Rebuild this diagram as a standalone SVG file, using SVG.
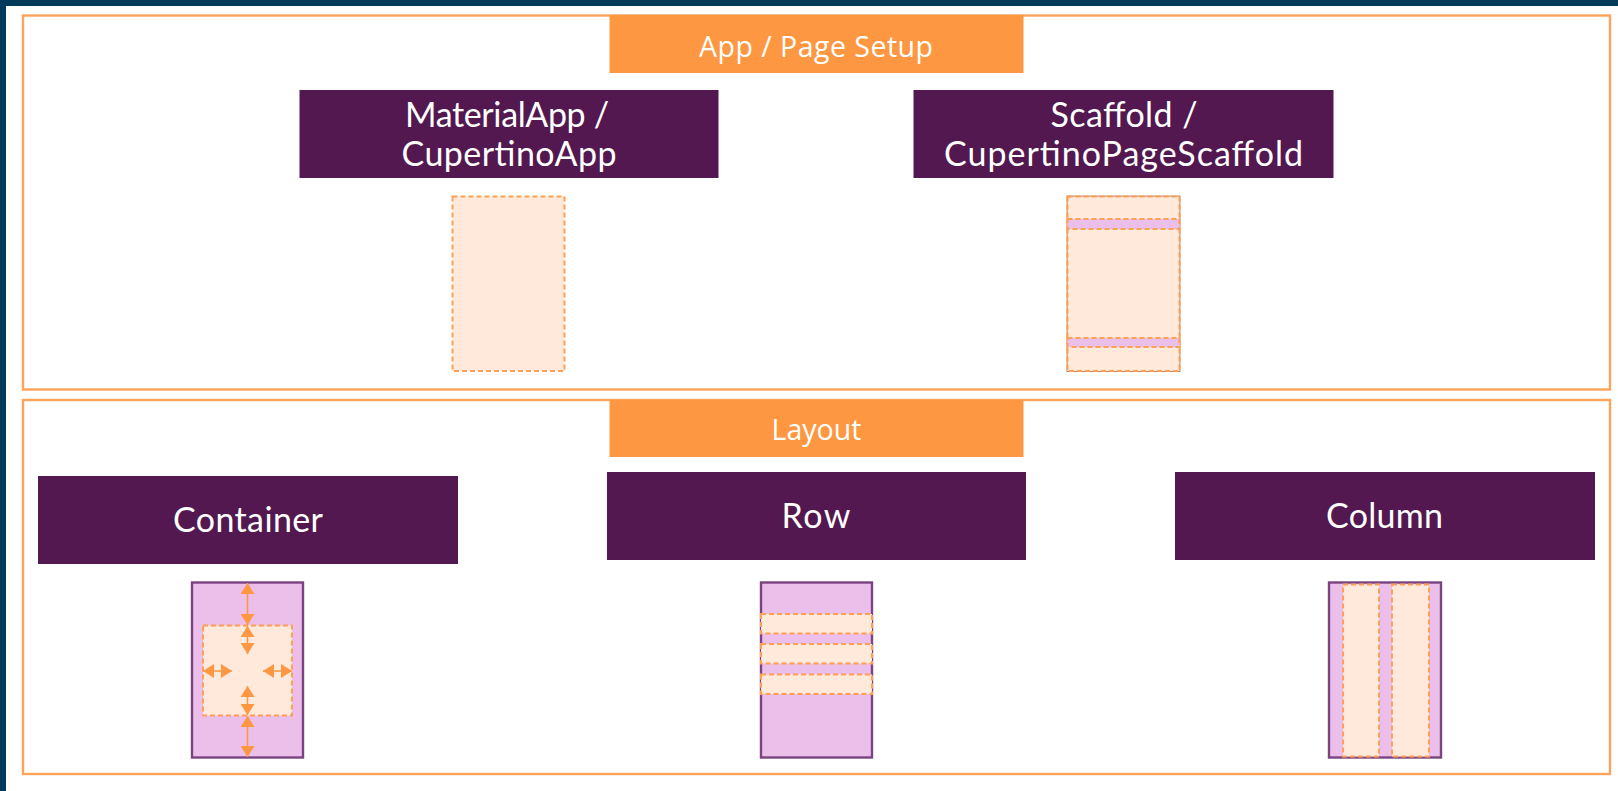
<svg xmlns="http://www.w3.org/2000/svg" width="1618" height="791" viewBox="0 0 1618 791">
<style>
.panel{fill:#fff;stroke:#fda35c;stroke-width:2.4}
.head{fill:#fd9741}
.title{fill:#52184f}
.ht{font-family:"Open Sans",sans-serif;font-size:28.500px;fill:#fff;text-anchor:middle}
.tt{font-family:"Lato",sans-serif;font-size:34px;fill:#fff;text-anchor:middle}
.phone{fill:#ebbfea;stroke:#7b4480;stroke-width:2.400}
.dash{fill:#fee9da;stroke:#fd9f55;stroke-width:2;stroke-dasharray:5 3}
.bar{fill:#ebbfea;stroke:#fd9f55;stroke-width:2;stroke-dasharray:5 3}
.ar{stroke:#fd9741;stroke-width:1.5;fill:none;marker-start:url(#ah);marker-end:url(#ah)}
</style>
<defs>
<marker id="ah" markerUnits="userSpaceOnUse" markerWidth="12" markerHeight="14" refX="11" refY="7" orient="auto-start-reverse"><path d="M0 0L11 7L0 14Z" fill="#fd9741"/></marker>
</defs>
<rect width="1618" height="791" fill="#fff"/>
<path d="M0 0H1618V6H6V791H0Z" fill="#023a5b"/>
<g id="panel-setup">
<rect class="panel" x="23" y="15.500" width="1587" height="374"/>
<rect class="head" x="609.500" y="15" width="414" height="58"/>
<text class="ht" x="816" y="56.500" textLength="234">App / Page Setup</text>
</g>
<g id="panel-layout">
<rect class="panel" x="23" y="400" width="1587" height="374"/>
<rect class="head" x="609.500" y="400" width="414" height="57"/>
<text class="ht" x="816.500" y="440" textLength="90">Layout</text>
</g>
<g id="material-app">
<rect class="title" x="299.500" y="90" width="419" height="88"/>
<text class="tt" x="507" y="127" textLength="204">MaterialApp /</text>
<text class="tt" x="509" y="166" textLength="215">CupertinoApp</text>
</g>
<g id="material-phone">
<rect class="dash" x="452.500" y="196.500" width="112" height="174.500"/>
</g>
<g id="scaffold">
<rect class="title" x="913.500" y="90" width="420" height="88"/>
<text class="tt" x="1124" y="127" textLength="147">Scaffold /</text>
<text class="tt" x="1123.500" y="166" textLength="359">CupertinoPageScaffold</text>
</g>
<g id="scaffold-phone">
<rect x="1067.500" y="196.500" width="112" height="174.500" fill="#fee9da" stroke="#b5734f" stroke-width="1.800"/>
<rect class="dash" x="1067.500" y="196.500" width="112" height="174.500"/>
<rect class="bar" x="1067.500" y="219" width="112" height="10"/>
<rect class="bar" x="1067.500" y="338" width="112" height="9"/>
</g>
<g id="container">
<rect class="title" x="38" y="476" width="420" height="88"/>
<text class="tt" x="248" y="532" textLength="150">Container</text>
</g>
<g id="container-phone">
<rect class="phone" x="192" y="582.500" width="111" height="175"/>
<rect class="dash" x="203" y="625.500" width="89" height="90"/>
</g>
<g id="row">
<rect class="title" x="607" y="472" width="419" height="88"/>
<text class="tt" x="816" y="528" textLength="69">Row</text>
</g>
<g id="row-phone">
<rect class="phone" x="761" y="582.500" width="111" height="175"/>
<rect class="dash" x="761" y="614" width="111" height="19.500"/>
<rect class="dash" x="761" y="644" width="111" height="19.500"/>
<rect class="dash" x="761" y="674.500" width="111" height="19.500"/>
</g>
<g id="column">
<rect class="title" x="1175" y="472" width="420" height="88"/>
<text class="tt" x="1384.500" y="528" textLength="117">Column</text>
</g>
<g id="column-phone">
<rect class="phone" x="1329" y="582.500" width="112" height="175"/>
<rect class="dash" x="1343" y="584.500" width="36" height="172"/>
<rect class="dash" x="1392" y="584.500" width="37" height="172"/>
</g>
<g id="connectors">
<line class="ar" x1="247.500" y1="583" x2="247.500" y2="625"/>
<line class="ar" x1="247.500" y1="626" x2="247.500" y2="654"/>
<line class="ar" x1="203" y1="671" x2="232" y2="671"/>
<line class="ar" x1="263" y1="671" x2="292" y2="671"/>
<line class="ar" x1="247.500" y1="686" x2="247.500" y2="715"/>
<line class="ar" x1="247.500" y1="716" x2="247.500" y2="757"/>
</g>
</svg>
